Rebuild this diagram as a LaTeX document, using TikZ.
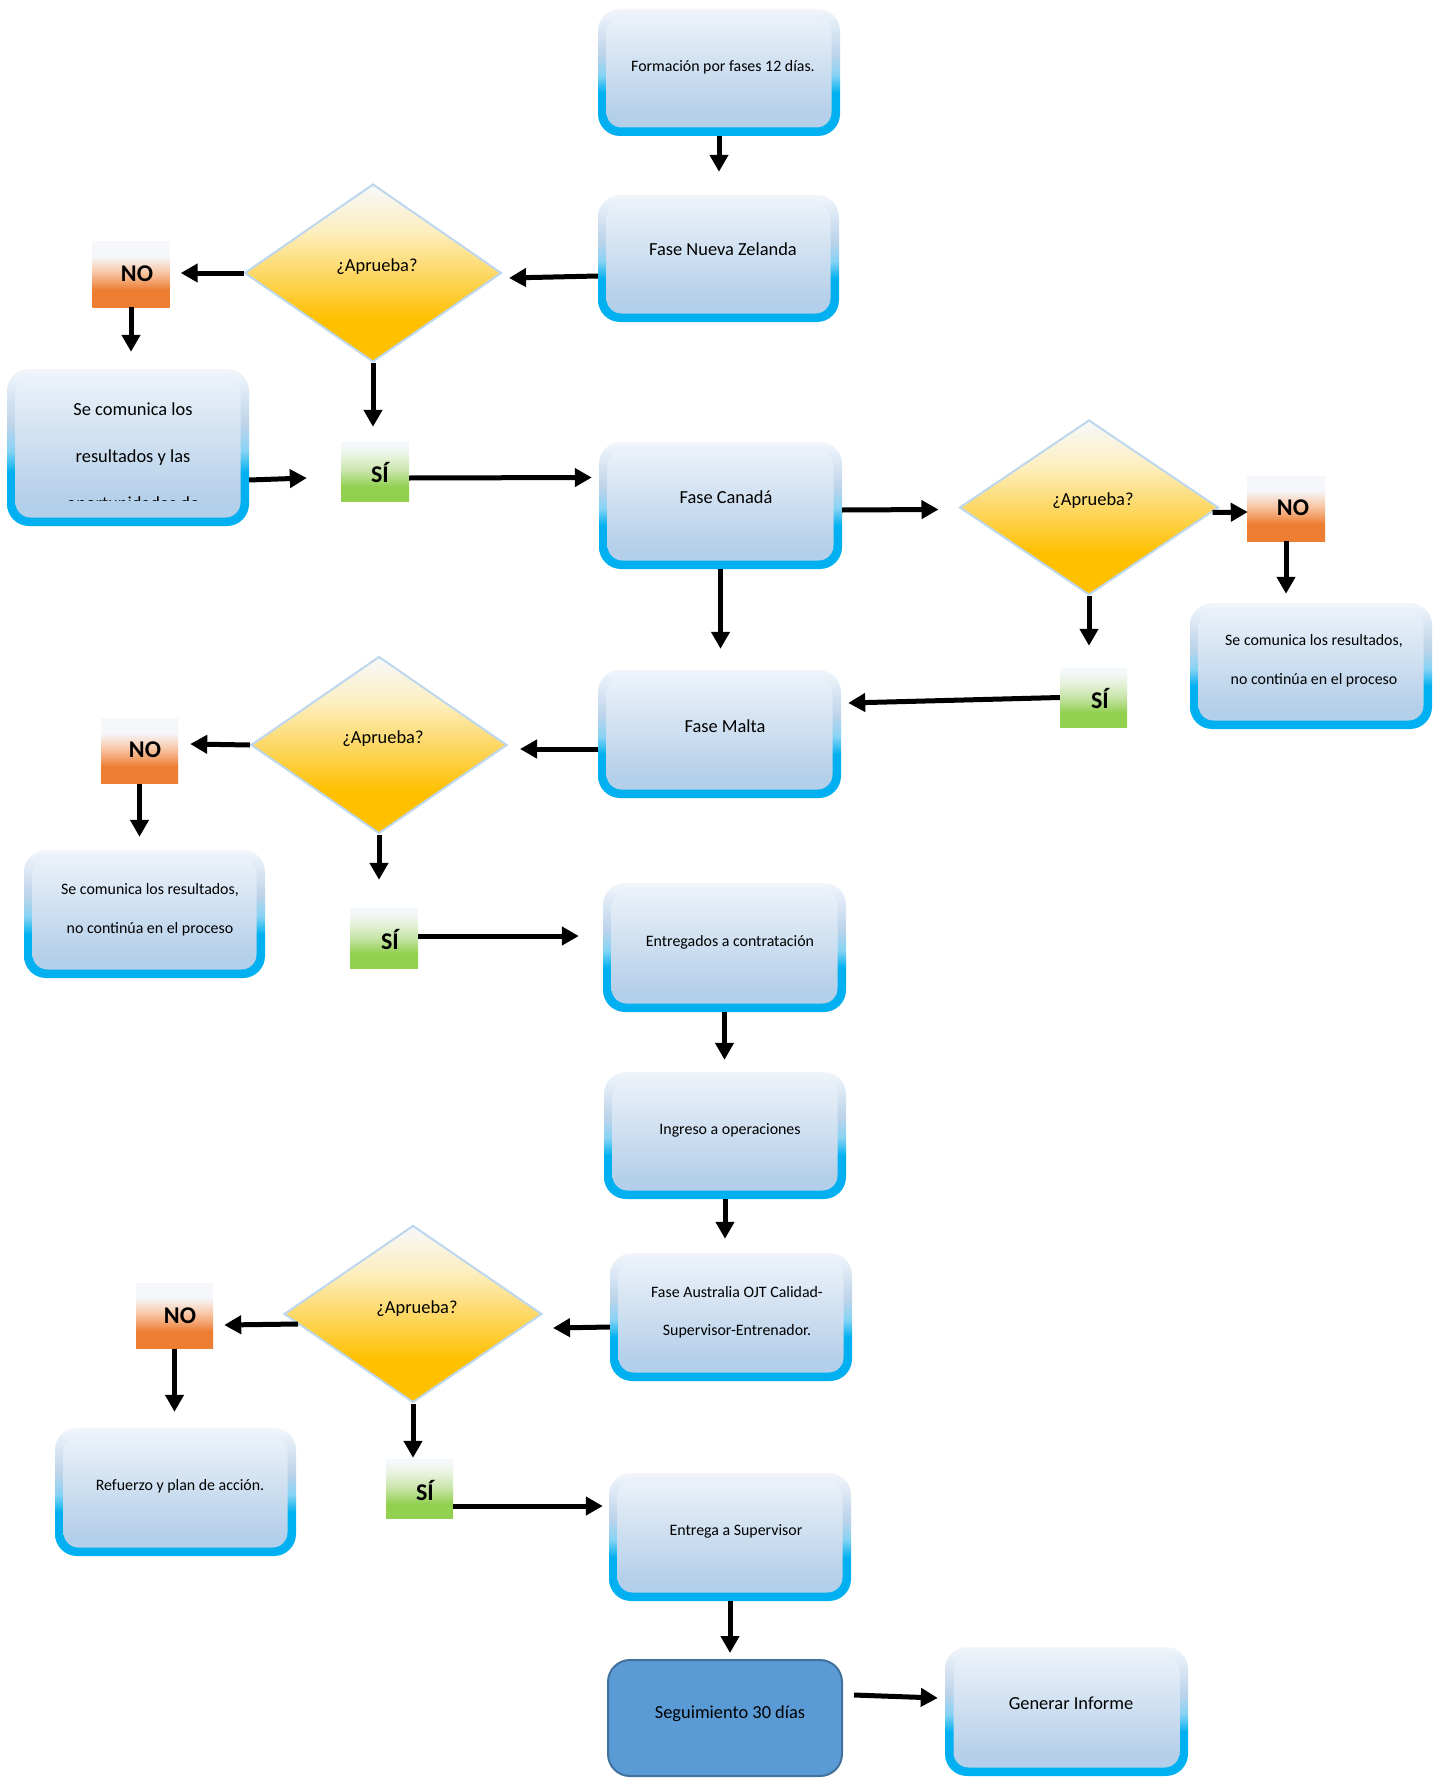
\documentclass[tikz,border=0pt]{standalone}
\usepackage{fontspec}
\setmainfont{Carlito}
\usetikzlibrary{shapes.geometric,arrows.meta,calc}

\definecolor{ringcyan}{HTML}{00B0F0}
\definecolor{ringmid}{HTML}{86D3F4}
\definecolor{ringgrey}{HTML}{BCD3EA}
\definecolor{ringtop}{HTML}{F2F6FB}
\definecolor{innbot}{HTML}{B4CFE9}
\definecolor{inntop}{HTML}{EFF4FA}
\definecolor{diatop}{HTML}{F6F8FB}
\definecolor{dialight}{HTML}{FDEFC0}
\definecolor{diamid}{HTML}{FDD865}
\definecolor{diabot}{HTML}{FFC000}
\definecolor{diaedge}{HTML}{BDD7EE}
\definecolor{notop}{HTML}{F5F7FB}
\definecolor{nopeach}{HTML}{F8CBAD}
\definecolor{nomid}{HTML}{F3A36F}
\definecolor{nobot}{HTML}{ED7D31}
\definecolor{sitop}{HTML}{F5F8FB}
\definecolor{sipale}{HTML}{E6F2DA}
\definecolor{silight}{HTML}{C6E4A6}
\definecolor{sibot}{HTML}{92D050}
\definecolor{segfill}{HTML}{5B9BD5}
\definecolor{segedge}{HTML}{41719C}

% vertical shadings (0bp = bottom, 100bp = top; 25bp..75bp spans the shape)
\pgfdeclareverticalshading{ringshade}{100bp}{color(0bp)=(ringcyan); color(25bp)=(ringcyan); color(42bp)=(ringcyan); color(49bp)=(ringmid); color(57bp)=(ringgrey); color(75bp)=(ringtop); color(100bp)=(ringtop)}
\pgfdeclareverticalshading{innershade}{100bp}{color(0bp)=(innbot); color(25bp)=(innbot); color(33bp)=(innbot); color(75bp)=(inntop); color(100bp)=(inntop)}
\pgfdeclareverticalshading{diashade}{100bp}{color(0bp)=(diabot); color(25bp)=(diabot); color(37bp)=(diabot); color(50bp)=(diamid); color(62bp)=(dialight); color(75bp)=(diatop); color(100bp)=(diatop)}
\pgfdeclareverticalshading{noshade}{100bp}{color(0bp)=(nobot); color(25bp)=(nobot); color(38bp)=(nobot); color(45bp)=(nomid); color(53bp)=(nopeach); color(64bp)=(notop); color(100bp)=(notop)}
\pgfdeclareverticalshading{sishade}{100bp}{color(0bp)=(sibot); color(25bp)=(sibot); color(37bp)=(sibot); color(50bp)=(silight); color(62bp)=(sipale); color(72bp)=(sitop); color(100bp)=(sitop)}

\tikzset{
  pbox/.style={rectangle, rounded corners=22pt, inner sep=0pt, shade, shading=ringshade,
    path picture={\shade[shading=innershade, rounded corners=15pt]
      ([shift={(8.5pt,8.5pt)}]path picture bounding box.south west) rectangle
      ([shift={(-8.5pt,-8.5pt)}]path picture bounding box.north east);}},
  dia/.style={diamond, inner sep=0pt, shade, shading=diashade, draw=diaedge, line width=2pt},
  nobox/.style={rectangle, inner sep=0pt, shade, shading=noshade, minimum width=77pt, minimum height=65pt},
  sibox/.style={rectangle, inner sep=0pt, shade, shading=sishade, minimum width=68pt, minimum height=59pt},
  segbox/.style={rectangle, rounded corners=22pt, fill=segfill, draw=segedge, line width=2pt},
  tbig/.style={font=\fontsize{18.4}{22}\selectfont, inner sep=0pt, text height=14pt, text depth=2pt},
  tsmall/.style={font=\fontsize{15.9}{19}\selectfont, inner sep=0pt, text height=12pt, text depth=1.6pt},
  msmall/.style={font=\fontsize{15.9}{38.5}\selectfont, inner sep=0pt, align=center},
  mbig/.style={font=\fontsize{18.4}{47}\selectfont, inner sep=0pt, align=center},
  tbold/.style={font=\fontsize{24}{28}\selectfont\bfseries, inner sep=0pt, text height=15.5pt, text depth=0pt},
  arr/.style={line width=5pt, -{Triangle[length=17pt,width=18pt]}},
}

\begin{document}
\begin{tikzpicture}[x=1pt, y=-1pt]
\useasboundingbox (0,0) rectangle (1440,1779);
\fill[white] (0,0) rectangle (1440,1779);

% ---- process boxes ----
\node[pbox, minimum width=242pt, minimum height=127pt] (b1) at (719,72.5) {};
\node[tsmall] (b1-t) at (723,66) {Formación por fases 12 días.};

\node[pbox, minimum width=241pt, minimum height=127pt] (b2) at (718.5,258.5) {};
\node[tbig] (b2-t) at (723,250) {Fase Nueva Zelanda};

\node[pbox, minimum width=242pt, minimum height=157pt] (lb1) at (128,447.5) {};
\begin{scope}
  \clip (lb1.north west) rectangle ($(lb1.south east)+(0,-26)$);
  \node[mbig] (lb1-t) at (133,458) {Se comunica los\\resultados y las\\oportunidades de};
\end{scope}

\node[pbox, minimum width=243pt, minimum height=127pt] (b3) at (720.5,505.5) {};
\node[tbig] (b3-t) at (726,497) {Fase Canadá};

\node[pbox, minimum width=242pt, minimum height=126pt] (rb2) at (1311,666) {};
\node[msmall] (rb2-t) at (1314,661) {Se comunica los resultados,\\no continúa en el proceso};

\node[pbox, minimum width=243pt, minimum height=128pt] (b4) at (719.5,734) {};
\node[tbig] (b4-t) at (725,726) {Fase Malta};

\node[pbox, minimum width=241pt, minimum height=128pt] (lb3) at (144.5,914) {};
\node[msmall] (lb3-t) at (150,910) {Se comunica los resultados,\\no continúa en el proceso};

\node[pbox, minimum width=243pt, minimum height=129pt] (b5) at (724.5,947.5) {};
\node[tsmall] (b5-t) at (730,941) {Entregados a contratación};

\node[pbox, minimum width=242pt, minimum height=127pt] (b6) at (725,1135.5) {};
\node[tsmall] (b6-t) at (730,1129) {Ingreso a operaciones};

\node[pbox, minimum width=242pt, minimum height=128pt] (b7) at (731,1317) {};
\node[msmall] (b7-t) at (737,1312) {Fase Australia OJT Calidad-\\Supervisor-Entrenador.};

\node[pbox, minimum width=241pt, minimum height=128pt] (lb4) at (175.5,1492) {};
\node[tsmall] (lb4-t) at (180,1485) {Refuerzo y plan de acción.};

\node[pbox, minimum width=242pt, minimum height=128pt] (b8) at (730,1537) {};
\node[tsmall] (b8-t) at (736,1530) {Entrega a Supervisor};

\node[segbox, minimum width=234pt, minimum height=116pt] (b9) at (725,1718) {};
\node[tbig] (b9-t) at (730,1712) {Seguimiento 30 días};

\node[pbox, minimum width=243pt, minimum height=129pt] (b10) at (1066.5,1711.5) {};
\node[tbig] (b10-t) at (1071,1703) {Generar Informe};

% ---- decisions ----
\node[dia, minimum width=257pt, minimum height=178pt] (d1) at (373,273) {};
\node[tbig] (d1-t) at (377,265) {¿Aprueba?};
\node[dia, minimum width=259pt, minimum height=175pt] (d2) at (1089,507.5) {};
\node[tbig] (d2-t) at (1093,499) {¿Aprueba?};
\node[dia, minimum width=256pt, minimum height=177pt] (d3) at (379,745) {};
\node[tbig] (d3-t) at (383,737) {¿Aprueba?};
\node[dia, minimum width=258pt, minimum height=177pt] (d4) at (413,1314) {};
\node[tbig] (d4-t) at (417,1307) {¿Aprueba?};

% ---- NO / SÍ tags ----
\node[nobox] (no1) at (131,274.5) {};
\node[tbold] (no1-t) at (137,274) {NO};
\node[nobox, minimum width=78pt] (no2) at (1286,508.5) {};
\node[tbold] (no2-t) at (1293,508) {NO};
\node[nobox] (no3) at (139.5,751) {};
\node[tbold] (no3-t) at (145,750) {NO};
\node[nobox] (no4) at (174.5,1316) {};
\node[tbold] (no4-t) at (180,1316) {NO};

\node[sibox] (si1) at (375,471.5) {};
\node[tbold] (si1-t) at (380,475) {SÍ};
\node[sibox, minimum width=67pt] (si2) at (1093.5,697.5) {};
\node[tbold] (si2-t) at (1100,701) {SÍ};
\node[sibox, minimum height=60pt] (si3) at (384,938) {};
\node[tbold] (si3-t) at (390,942) {SÍ};
\node[sibox, minimum width=67pt] (si4) at (419.5,1488.5) {};
\node[tbold] (si4-t) at (425,1493) {SÍ};

% ---- connectors ----
\draw[arr, shorten >=23pt] (b1.south) -- (b1.south |- b2.north);
\draw[arr] ($(b2.west)+(0,17.5)$) -- ($(d1.east)+(6.5,5)$);
\draw[arr, shorten >=11pt] (d1.west) -- (d1.west -| no1.east);
\draw[arr, shorten >=17pt] (no1.south) -- (no1.south |- lb1.north);
\draw[arr] ($(lb1.east)+(0,32.5)$) -- ($(si1.west)+(-34,6.5)$);
\draw[arr, shorten >=15pt] (d1.south) -- (d1.south |- si1.north);
\draw[arr] ($(si1.east)+(0,6.5)$) -- ($(b3.west)+(-7,-28)$);
\draw[arr, shorten >=21pt] (b3.south) -- (b3.south |- b4.north);
\draw[arr] ($(b3.east)+(0,4.5)$) -- ($(d2.west)+(-20,2)$);
\draw[arr] ($(d2.east)+(-7,5)$) -- ($(no2.west)+(1,3.5)$);
\draw[arr, shorten >=9pt] (no2.south) -- (no2.south |- rb2.north);
\draw[arr, shorten >=22pt] (d2.south) -- (d2.south |- si2.north);
\draw[arr] (si2.west) -- ($(b4.east)+(7,-31)$);
\draw[arr] ($(b4.west)+(0,15)$) -- ($(d3.east)+(12,4)$);
\draw[arr] (d3.west) -- ($(no3.east)+(12,-7)$);
\draw[arr, shorten >=13pt] (no3.south) -- (no3.south |- lb3.north);
\draw[arr, shorten >=28pt] (d3.south) -- (d3.south |- si3.north);
\draw[arr] ($(si3.east)+(0,-2)$) -- ($(b5.west)+(-24,-11.5)$);
\draw[arr, shorten >=12pt] (b5.south) -- (b5.south |- b6.north);
\draw[arr, shorten >=14pt] (b6.south) -- (b6.south |- b7.north);
\draw[arr] ($(b7.west)+(0,10)$) -- ($(d4.east)+(10,14)$);
\draw[arr] ($(d4.west)+(15,10)$) -- ($(no4.east)+(11,9)$);
\draw[arr, shorten >=16pt] (no4.south) -- (no4.south |- lb4.north);
\draw[arr, shorten >=1pt] (d4.south) -- (d4.south |- si4.north);
\draw[arr] ($(si4.east)+(0,17.5)$) -- ($(b8.west)+(-6,-31)$);
\draw[arr, shorten >=6pt] (b8.south) -- (b8.south |- b9.north);
\draw[arr] ($(b9.east)+(11,-23)$) -- ($(b10.west)+(-7,-13.5)$);
\end{tikzpicture}
\end{document}
